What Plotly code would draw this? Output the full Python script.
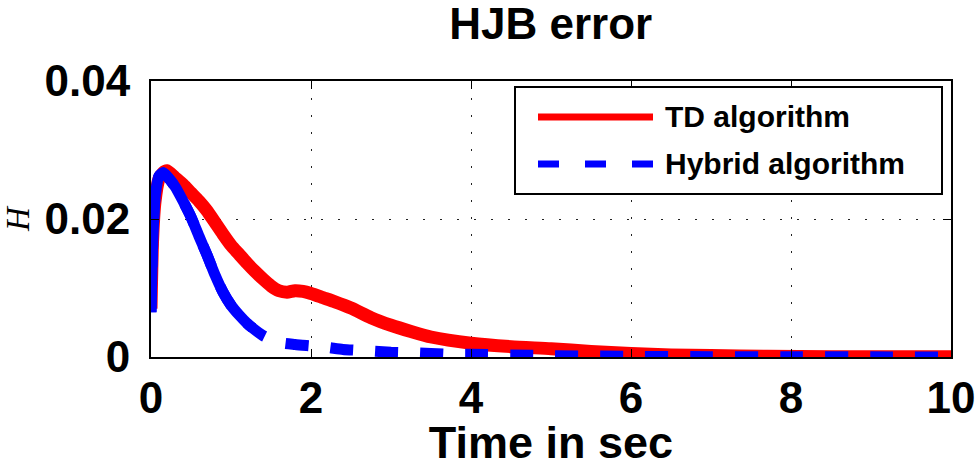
import plotly.graph_objects as go

# Time samples (s) and HJB error for the TD algorithm
t_td = [0.0, 0.02, 0.05, 0.1, 0.15, 0.2, 0.3, 0.4, 0.5, 0.6, 0.7, 0.8, 0.9,
        1.0, 1.1, 1.2, 1.3, 1.4, 1.5, 1.6, 1.7, 1.8, 1.9, 2.0, 2.15, 2.3,
        2.5, 2.75, 3.0, 3.25, 3.5, 4.0, 4.5, 5.0, 5.5, 6.0, 6.5, 7.0, 7.7,
        8.5, 9.2, 10.0]
h_td = [0.0070, 0.0170, 0.0225, 0.0258, 0.0267, 0.0270, 0.0260, 0.0250,
        0.0238, 0.0226, 0.0212, 0.0195, 0.0178, 0.0162, 0.0149, 0.0136,
        0.0124, 0.0113, 0.0103, 0.0096, 0.0094, 0.0096, 0.0095, 0.0092,
        0.0086, 0.0080, 0.0071, 0.0057, 0.0046, 0.0037, 0.0029, 0.0020,
        0.0015, 0.0012, 0.0008, 0.0005, 0.0003, 0.0002, 0.0001, 0.00005,
        0.00003, 0.00002]

# Time samples (s) and HJB error for the hybrid algorithm
t_hy = [0.0, 0.02, 0.05, 0.1, 0.15, 0.2, 0.3, 0.4, 0.5, 0.6, 0.7, 0.8, 0.9,
        1.0, 1.1, 1.2, 1.27, 1.4, 1.6, 1.8, 2.0, 2.2, 2.4, 2.7, 3.0, 3.3, 3.7,
        4.0, 4.5, 5.0, 6.0, 7.0, 8.0, 9.0, 10.0]
h_hy = [0.0065, 0.0160, 0.0230, 0.0262, 0.0267, 0.0262, 0.0247, 0.0226,
        0.0203, 0.0175, 0.0148, 0.0119, 0.0094, 0.0075, 0.0061, 0.0049,
        0.0042, 0.0031, 0.0021, 0.0018, 0.0016, 0.0014, 0.0011, 0.0009,
        0.0007, 0.0006, 0.0004, 0.0004, 0.0003, 0.0002, 0.0001, 0.00005,
        0.00003, 0.00002, 0.00001]

series_names = ["TD algorithm", "Hybrid algorithm"]
series_colors = ["#ff0000", "#0000ff"]

# the steep early transient renders as one continuous stroke
solid_until = 1.27

x_ticks = [0, 2, 4, 6, 8, 10]
y_ticks = [0, 0.02, 0.04]
y_tick_text = ["0", "0.02", "0.04"]

BOLD = dict(family="Liberation Sans, Arial, sans-serif", color="black", weight="bold")

fig = go.Figure()
fig.add_trace(go.Scatter(
    x=t_td, y=h_td, mode="lines", name=series_names[0],
    line=dict(color=series_colors[0], width=13, shape="spline", smoothing=0.6),
))
t_head = [t for t in t_hy if t <= solid_until]
h_head = h_hy[:len(t_head)]
fig.add_trace(go.Scatter(
    x=t_head, y=h_head, mode="lines", name=series_names[1],
    line=dict(color=series_colors[1], width=11, shape="spline", smoothing=0.6),
))
fig.add_trace(go.Scatter(
    x=t_hy, y=h_hy, mode="lines", name=series_names[1],
    line=dict(color=series_colors[1], width=11, dash="23px,22px", shape="spline", smoothing=0.6),
))

# boxed legend in the upper-right corner of the axes
fig.add_shape(type="rect", xref="paper", yref="paper",
              x0=0.455, x1=0.98875, y0=0.5906, y1=0.9783,
              line=dict(color="black", width=2), fillcolor="white", layer="above")
legend_rows_y = [0.8696, 0.6993]
legend_dash = ["solid", "21px,26px"]
for name, color, ly, dash in zip(series_names, series_colors, legend_rows_y, legend_dash):
    fig.add_shape(type="line", xref="paper", yref="paper",
                  x0=0.48375, x1=0.6275, y0=ly, y1=ly,
                  line=dict(color=color, width=7, dash=dash), layer="above")
    fig.add_annotation(text=name, xref="paper", yref="paper", x=0.64, y=ly,
                       xanchor="left", yanchor="middle", showarrow=False,
                       font=dict(size=30, **BOLD))

axis_common = dict(
    showline=True, linecolor="black", linewidth=2, mirror="ticks",
    ticks="inside", ticklen=8, tickwidth=1, tickcolor="black",
    showgrid=True, gridcolor="#222222", gridwidth=1, griddash="2px,15px",
    zeroline=False, automargin=False, tickfont=dict(size=44, **BOLD),
)

fig.update_layout(
    width=979, height=468,
    margin=dict(l=151, r=28, t=81, b=111),
    paper_bgcolor="white", plot_bgcolor="white",
    showlegend=False,
    title=dict(text="HJB error", x=0.5625, xanchor="center", y=0.95, yanchor="middle",
               font=dict(size=44, **BOLD), automargin=False),
    xaxis=dict(range=[0, 10], tickvals=x_ticks, ticklabelstandoff=1,
               title=dict(text="Time in sec", font=dict(size=45, **BOLD), standoff=18),
               **axis_common),
    yaxis=dict(range=[0, 0.04], tickvals=y_ticks, ticktext=y_tick_text, ticklabelstandoff=10,
               title=dict(text="<i>H</i>", standoff=10,
                          font=dict(size=33, family="Liberation Serif, Times New Roman, serif",
                                    color="black")),
               **axis_common),
)

fig.write_html("out.html")
